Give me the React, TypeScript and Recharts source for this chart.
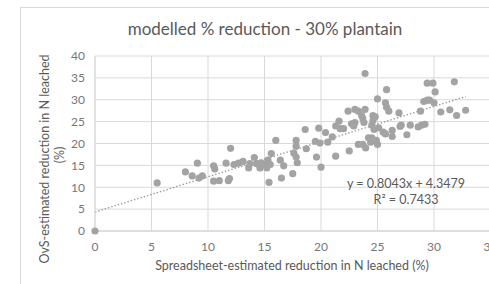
import React from "react";
import { ScatterChart, Scatter, XAxis, YAxis, CartesianGrid, ReferenceLine } from "recharts";

const spreadsheetX: number[] = [
  0, 5.5, 8.0, 8.6, 9.06, 9.2, 9.5, 10.5, 10.6, 10.5, 11.0, 11.6, 11.8, 11.9, 12.0, 12.3, 12.7, 13.1, 13.6, 13.7,
  14.1, 14.3, 14.6, 14.7, 15.0, 15.2, 15.3, 15.5, 15.6, 15.4, 16.0, 16.4, 16.5, 16.7, 17.5, 17.6, 17.8, 17.8, 17.8, 17.9,
  18.6, 18.7, 19.5, 19.6, 19.8, 19.9, 20.0, 20.4, 20.6, 21.0, 21.3, 21.3, 21.6, 21.7, 22.0, 22.4, 22.5, 22.7, 22.9, 23.0,
  23.0, 23.3, 23.3, 23.6, 23.7, 23.9, 23.7, 23.8, 23.9, 23.95, 24.2, 24.4, 24.5, 24.5, 24.6, 24.6, 24.7, 24.8, 24.9, 25.0,
  25.0, 25.1, 25.5, 25.7, 25.7, 25.8, 25.8, 26.0, 26.3, 26.3, 26.9, 27.0, 27.1, 27.6, 27.9, 28.6, 28.8, 28.9, 29.1, 29.2,
  29.4, 29.4, 29.6, 29.9, 30.1, 30.0, 30.6, 31.4, 31.8, 32.0, 32.8,
];
const ovsY: number[] = [
  0, 11.0, 13.5, 12.6, 15.5, 12.1, 12.6, 14.9, 14.2, 11.4, 11.5, 15.5, 11.5, 12.0, 18.9, 15.2, 15.5, 15.9, 14.4, 15.4,
  16.8, 15.4, 14.4, 15.6, 15.2, 14.4, 16.2, 15.2, 17.7, 11.1, 20.7, 16.2, 12.1, 14.9, 13.1, 17.8, 20.7, 19.4, 16.9, 15.6,
  23.2, 18.8, 20.5, 16.9, 23.5, 20.1, 14.6, 22.5, 20.3, 21.5, 17.1, 24.0, 25.1, 23.4, 23.4, 27.4, 18.3, 24.5, 24.0, 27.8,
  24.8, 19.8, 27.4, 26.4, 19.8, 36.0, 25.7, 24.8, 27.8, 19.0, 21.3, 20.3, 24.2, 21.3, 26.4, 25.3, 23.2, 26.1, 20.7, 19.8,
  30.2, 23.6, 22.6, 29.3, 22.2, 32.3, 28.3, 27.4, 21.6, 23.0, 27.0, 23.9, 24.2, 22.0, 24.2, 23.8, 27.4, 24.2, 29.6, 24.4,
  33.8, 29.9, 29.9, 33.8, 31.8, 29.3, 27.2, 27.7, 34.1, 26.4, 27.6,
];

const xTicks: number[] = [0, 5, 10, 15, 20, 25, 30, 35];
const yTicks: number[] = [0, 5, 10, 15, 20, 25, 30, 35, 40];

const slope = 0.8043;
const intercept = 4.3479;
const r2 = 0.7433;

const title = "modelled % reduction - 30% plantain";
const xTitle = "Spreadsheet-estimated reduction in N leached (%)";
const yTitle1 = "OvS-estimated reduction in N leached";
const yTitle2 = "(%)";

const points = spreadsheetX.map((x, i) => ({ x, y: ovsY[i] }));
const xMin = 0;
const xMax = Math.max(...spreadsheetX);

const FONT = "Lato, 'Open Sans', sans-serif";
const TEXT = "#595959";

const Dot = (props: any) => <circle cx={props.cx} cy={props.cy} r={3.6} fill="#a3a3a3" />;

export default function App() {
  return (
    <div style={{ position: "absolute", left: 0, top: 0, width: 489, height: 284, overflow: "hidden", background: "#fff", fontFamily: FONT }}>
      <div style={{ position: "absolute", left: 20, top: 7, width: 560, height: 320, border: "1px solid #d9d9d9", boxSizing: "border-box" }} />
      <div style={{ position: "absolute", left: 0, top: 0 }}>
        <ScatterChart width={600} height={284} margin={{ top: 56, right: 109.5, bottom: 23, left: 35 }}>
          <CartesianGrid stroke="#d9d9d9" strokeWidth={1} />
          <XAxis
            type="number"
            dataKey="x"
            domain={[0, 35]}
            ticks={xTicks}
            interval={0}
            height={30}
            axisLine={{ stroke: "#d0d0d0" }}
            tickLine={false}
            tickMargin={5}
            tick={{ fill: "#767676", fontSize: 12, fontFamily: FONT }}
          />
          <YAxis
            type="number"
            dataKey="y"
            domain={[0, 40]}
            ticks={yTicks}
            interval={0}
            width={60}
            axisLine={{ stroke: "#d9d9d9" }}
            tickLine={false}
            tickMargin={4}
            tick={{ fill: "#767676", fontSize: 12, fontFamily: FONT }}
          />
          <ReferenceLine
            segment={[
              { x: xMin, y: slope * xMin + intercept },
              { x: xMax, y: slope * xMax + intercept },
            ]}
            stroke="#9a9a9a"
            strokeWidth={1.4}
            strokeDasharray="1.4 2"
            ifOverflow="extendDomain"
          />
          <Scatter data={points} shape={Dot} isAnimationActive={false} />
        </ScatterChart>
      </div>
      <svg width={489} height={284} style={{ position: "absolute", left: 0, top: 0, pointerEvents: "none" }}>
        <text x={265} y={35} textAnchor="middle" fontSize={17} fill={TEXT} fontFamily={FONT}>{title}</text>
        <text x={292} y={270} textAnchor="middle" fontSize={12.5} fill={TEXT} fontFamily={FONT}>{xTitle}</text>
        <text transform="translate(49,159) rotate(-90)" textAnchor="middle" fontSize={12.5} fill={TEXT} fontFamily={FONT}>{yTitle1}</text>
        <text transform="translate(64,155) rotate(-90)" textAnchor="middle" fontSize={12.5} fill={TEXT} fontFamily={FONT}>{yTitle2}</text>
        <text x={406} y={188} textAnchor="middle" fontSize={12.5} fill={TEXT} fontFamily={FONT}>{`y = ${slope}x + ${intercept}`}</text>
        <text x={406} y={204} textAnchor="middle" fontSize={12.5} fill={TEXT} fontFamily={FONT}>R² = {r2}</text>
      </svg>
    </div>
  );
}
